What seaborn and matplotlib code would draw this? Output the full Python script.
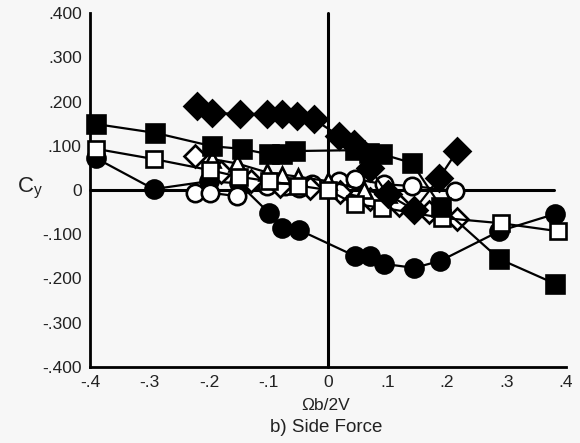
import matplotlib
matplotlib.use("Agg")
import matplotlib.pyplot as plt
import seaborn as sns
import pandas as pd

# ---- data (Omega b / 2V , C_y) ----
sqf_x = [-0.39, -0.29, -0.195, -0.145, -0.10, -0.077, -0.056, 0.045, 0.069, 0.091, 0.141, 0.19, 0.288, 0.382]
sqf_y = [0.149, 0.129, 0.099, 0.093, 0.081, 0.081, 0.088, 0.090, 0.084, 0.081, 0.061, -0.038, -0.156, -0.212]

sqo_x = [-0.39, -0.293, -0.199, -0.15, -0.10, -0.05, 0.0, 0.045, 0.091, 0.192, 0.29, 0.386]
sqo_y = [0.093, 0.070, 0.045, 0.030, 0.020, 0.010, 0.0, -0.032, -0.040, -0.063, -0.075, -0.093]

cf_x = [-0.39, -0.293, -0.2, -0.15, -0.099, -0.077, -0.049, 0.045, 0.071, 0.094, 0.145, 0.189, 0.288, 0.382]
cf_y = [0.072, 0.002, 0.020, 0.015, -0.052, -0.086, -0.090, -0.149, -0.149, -0.167, -0.176, -0.160, -0.093, -0.054]

co_x = [-0.224, -0.199, -0.153, -0.103, -0.072, -0.049, -0.027, 0.019, 0.045, 0.094, 0.141, 0.214]
co_y = [-0.006, -0.006, -0.014, 0.009, 0.009, 0.005, 0.013, 0.020, 0.025, 0.013, 0.009, -0.002]

df_x = [-0.221, -0.195, -0.148, -0.103, -0.077, -0.052, -0.024, 0.019, 0.044, 0.07, 0.10, 0.145, 0.187, 0.217]
df_y = [0.190, 0.174, 0.172, 0.172, 0.172, 0.167, 0.160, 0.122, 0.104, 0.050, -0.010, -0.045, 0.027, 0.088]

do_x = [-0.224, -0.18, -0.13, -0.08, -0.03, 0.02, 0.07, 0.12, 0.17, 0.217]
do_y = [0.077, 0.040, 0.020, 0.010, 0.005, -0.005, -0.020, -0.035, -0.050, -0.066]

to_x = [-0.195, -0.153, -0.103, -0.077, -0.05, 0.0, 0.06, 0.10]
to_y = [0.070, 0.060, 0.040, 0.035, 0.030, 0.020, 0.0, -0.010]

xticks = [-0.4, -0.3, -0.2, -0.1, 0.0, 0.1, 0.2, 0.3, 0.4]
xtick_labels = ["-.4", "-.3", "-.2", "-.1", "0", ".1", ".2", ".3", ".4"]
yticks = [0.4, 0.3, 0.2, 0.1, 0.0, -0.1, -0.2, -0.3, -0.4]
ytick_labels = [".400", ".300", ".200", ".100", "0", "-.100", "-.200", "-.300", "-.400"]

sns.set_style("white")
plt.rcParams["font.family"] = ["Liberation Sans", "DejaVu Sans"]

fig = plt.figure(figsize=(5.8, 4.43), dpi=100)
ax = fig.add_axes([90 / 580, 1 - 367 / 443, (566 - 90) / 580, (367 - 13) / 443])
fig.patch.set_facecolor("#f7f7f7")
ax.set_facecolor("#f7f7f7")

# reference lines
ax.plot([-0.4, 0.38], [0, 0], color="black", lw=2.2, zorder=1, clip_on=False)
ax.axvline(0, color="black", lw=2.2, zorder=1)

series = [
    (cf_x, cf_y, "o", 13, "black"),
    (co_x, co_y, "o", 12.5, "white"),
    (do_x, do_y, "D", 11, "white"),
    (to_x, to_y, "^", 11.5, "white"),
    (sqo_x, sqo_y, "s", 12, "white"),
    (sqf_x, sqf_y, "s", 13, "black"),
    (df_x, df_y, "D", 13.5, "black"),
]

for i, (xs, ys, mk, ms, fc) in enumerate(series):
    d = pd.DataFrame({"x": xs, "y": ys})
    sns.lineplot(data=d, x="x", y="y", ax=ax, sort=False, estimator=None,
                 color="black", lw=1.6, marker=mk, markersize=ms,
                 markerfacecolor=fc, markeredgecolor="black",
                 markeredgewidth=1.9, zorder=2 + i)

for ln in ax.lines:
    ln.set_clip_on(False)

ax.set_xlim(-0.4, 0.4)
ax.set_ylim(-0.4, 0.4)
ax.set_xticks(xticks)
ax.set_xticklabels(xtick_labels)
ax.set_yticks(yticks)
ax.set_yticklabels(ytick_labels)
ax.tick_params(axis="both", direction="in", length=6, width=1.5,
               labelsize=12.5, color="black", labelcolor="#222222")
ax.tick_params(axis="y", pad=6)
ax.tick_params(axis="x", pad=6)

for s in ["top", "right"]:
    ax.spines[s].set_visible(False)
for s in ["left", "bottom"]:
    ax.spines[s].set_linewidth(2)
    ax.spines[s].set_color("black")

ax.set_xlabel("")
ax.set_ylabel("")
fig.text(30 / 580, 1 - 188 / 443, r"$\mathregular{C_y}$", fontsize=16,
         ha="center", va="center", color="#222222")
fig.text(326 / 580, 1 - 406 / 443, "Ωb/2V", fontsize=12.5,
         ha="center", va="center", color="#222222")
fig.text(326 / 580, 1 - 427 / 443, "b) Side Force", fontsize=13.5,
         ha="center", va="center", color="#222222")

fig.savefig("out.png", dpi=100, facecolor=fig.get_facecolor())
